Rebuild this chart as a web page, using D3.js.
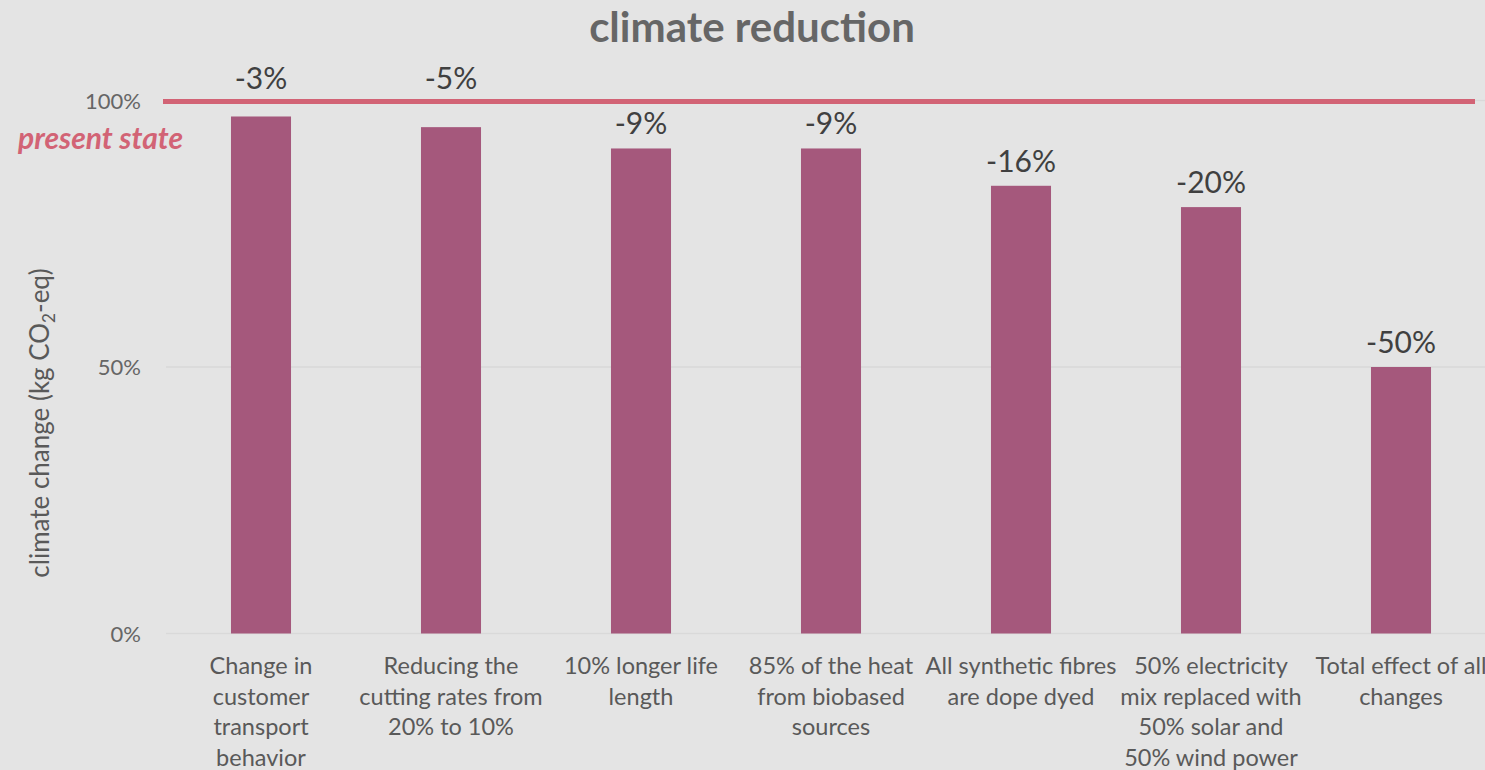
<!DOCTYPE html>
<html>
<head>
<meta charset="utf-8">
<script src="https://cdn.jsdelivr.net/npm/d3@7"></script>
<style>
  body { margin: 0; background: #e4e4e4; }
  svg { display: block; font-family: Lato, "Open Sans", sans-serif; }
</style>
</head>
<body>
<svg width="1485" height="770"></svg>
<script>
"use strict";

// categories (wrapped the same way as the picture)
const categories = [
  ["Change in", "customer", "transport", "behavior"],
  ["Reducing the", "cutting rates from", "20% to 10%"],
  ["10% longer life", "length"],
  ["85% of the heat", "from biobased", "sources"],
  ["All synthetic fibres", "are dope dyed"],
  ["50% electricity", "mix replaced with", "50% solar and", "50% wind power"],
  ["Total effect of all", "changes"]
];
// remaining climate impact, % of present state
const values = [97, 95, 91, 91, 84, 80, 50];
const reductions = ["-3%", "-5%", "-9%", "-9%", "-16%", "-20%", "-50%"];
const yTicks = [0, 50, 100];
const presentState = 100;

const svg = d3.select("svg");

const x = d3.scaleBand()
  .domain(d3.range(categories.length))
  .range([166, 1496])
  .paddingInner(0.684)
  .paddingOuter(0.342);

const y = d3.scaleLinear().domain([0, 100]).range([633.5, 100.5]);

// title
svg.append("text")
  .attr("x", 752).attr("y", 42)
  .attr("text-anchor", "middle")
  .style("font-size", "42px").style("font-weight", "bold")
  .style("fill", "#666")
  .text("climate reduction");

// gridlines
svg.append("g")
  .selectAll("line")
  .data(yTicks)
  .join("line")
  .attr("x1", 166).attr("x2", 1485)
  .attr("y1", (d) => y(d)).attr("y2", (d) => y(d))
  .style("stroke", "#d9d9d9").style("stroke-width", 1.5);

// y tick labels
svg.append("g")
  .selectAll("text")
  .data(yTicks)
  .join("text")
  .attr("x", 141).attr("y", (d) => y(d) + 8)
  .attr("text-anchor", "end")
  .style("font-size", "22px").style("fill", "#666")
  .text((d) => d + "%");

// y axis title, with subscript 2
const yTitle = svg.append("text")
  .attr("transform", "translate(49,423) rotate(-90)")
  .attr("text-anchor", "middle")
  .style("font-size", "26px").style("fill", "#595959");
yTitle.append("tspan").text("climate change (kg CO");
yTitle.append("tspan").attr("dy", 6).style("font-size", "17px").text("2");
yTitle.append("tspan").attr("dy", -6).text("-eq)");

// bars
svg.append("g")
  .selectAll("rect")
  .data(values)
  .join("rect")
  .attr("x", (d, i) => x(i))
  .attr("width", x.bandwidth())
  .attr("y", (d) => y(d))
  .attr("height", (d) => y(0) - y(d))
  .style("fill", "#a5587c");

// present state line
svg.append("line")
  .attr("x1", 163).attr("x2", 1475)
  .attr("y1", y(presentState) + 1).attr("y2", y(presentState) + 1)
  .style("stroke", "#d26375").style("stroke-width", 5);

svg.append("text")
  .attr("x", 18).attr("y", 149)
  .style("font-size", "30px").style("font-weight", "bold").style("font-style", "italic")
  .style("fill", "#d26375")
  .text("present state");

// value labels: just above the bar, or above the red line when they would hit it
const lineY = y(presentState);
svg.append("g")
  .selectAll("text")
  .data(values)
  .join("text")
  .attr("x", (d, i) => x(i) + x.bandwidth() / 2)
  .attr("y", (d) => (y(d) - 14 > lineY + 26 ? y(d) - 14 : lineY - 12))
  .attr("text-anchor", "middle")
  .style("font-size", "30px").style("fill", "#404040")
  .text((d, i) => reductions[i]);

// category labels
const cat = svg.append("g")
  .selectAll("text")
  .data(categories)
  .join("text")
  .attr("x", (d, i) => x(i) + x.bandwidth() / 2)
  .attr("y", 674)
  .attr("text-anchor", "middle")
  .style("font-size", "23.5px").style("fill", "#595959");

cat.selectAll("tspan")
  .data((d) => d)
  .join("tspan")
  .attr("x", function () { return this.parentNode.getAttribute("x"); })
  .attr("dy", (d, i) => (i === 0 ? 0 : 30.5))
  .text((d) => d);
</script>
</body>
</html>
